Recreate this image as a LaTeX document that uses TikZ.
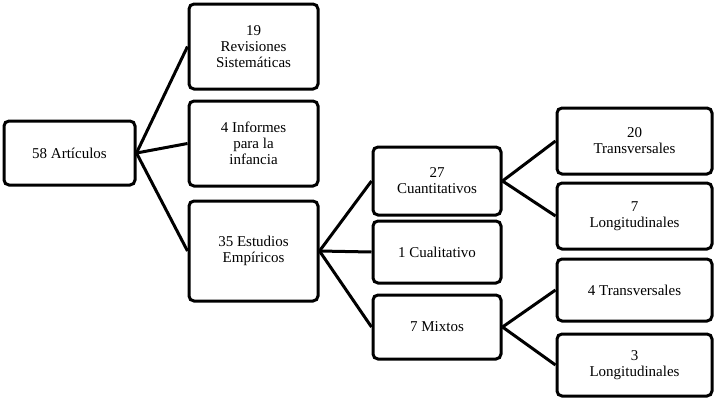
\documentclass[tikz,border=0pt]{standalone}
\usepackage{fontspec}
\setmainfont{Liberation Serif}
\begin{document}
\begin{tikzpicture}[x=1pt,y=-1pt,
  box/.style={draw,line width=3pt,rounded corners=5pt,align=center,font=\fontsize{15}{16}\selectfont,inner sep=1pt},
  conn/.style={line width=3pt}]
\useasboundingbox (0,0) rectangle (718,400);
\node[box,minimum width=131,minimum height=64] (a) at (69.5,153) {58 Artículos};
\node[box,minimum width=129,minimum height=85] (r) at (253.5,46.5) {19\\Revisiones\\Sistemáticas};
\node[box,minimum width=129,minimum height=85] (i) at (253.5,143.5) {4 Informes\\para la\\infancia};
\node[box,minimum width=129,minimum height=100] (e) at (253.5,251) {35 Estudios\\Empíricos};
\node[box,minimum width=128,minimum height=68] (q) at (437,181) {27\\Cuantitativos};
\node[box,minimum width=128,minimum height=62] (c) at (437,252) {1 Cualitativo};
\node[box,minimum width=128,minimum height=64] (m) at (437,327) {7 Mixtos};
\node[box,minimum width=155,minimum height=66] (t1) at (634.5,141) {20\\Transversales};
\node[box,minimum width=155,minimum height=66] (l1) at (634.5,216) {7\\Longitudinales};
\node[box,minimum width=155,minimum height=62] (t2) at (634.5,290) {4 Transversales};
\node[box,minimum width=155,minimum height=62] (l2) at (634.5,365) {3\\Longitudinales};
\foreach \p/\c in {a/r,a/i,a/e,e/q,e/c,e/m,q/t1,q/l1,m/t2,m/l2}
  \draw[conn] (\p.east) -- (\c.west);
\end{tikzpicture}
\end{document}
